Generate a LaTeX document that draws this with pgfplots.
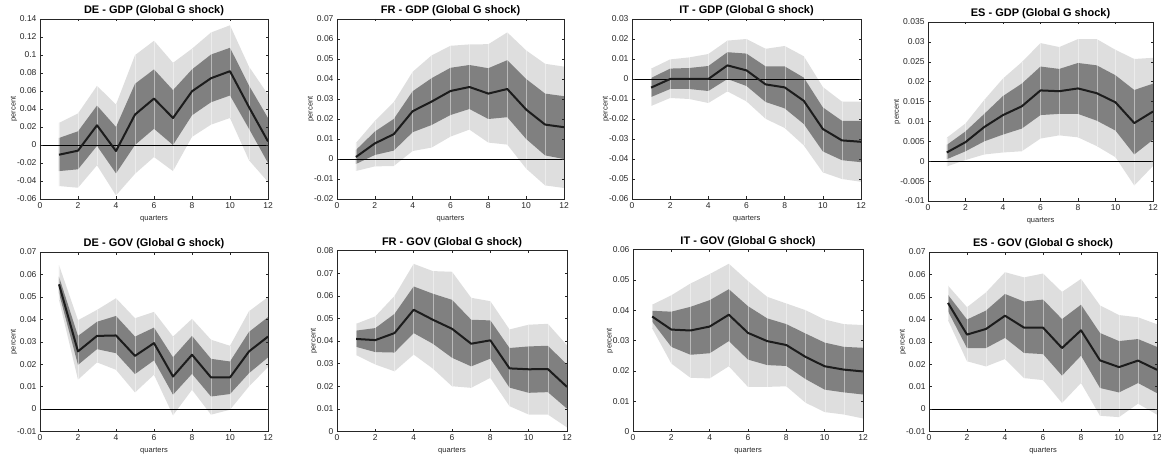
\documentclass[border=0pt]{standalone}
\usepackage{fontspec}
\setmainfont{Liberation Sans}
\usepackage{pgfplots}
\pgfplotsset{compat=1.18}
\usepackage{pgfplotstable}

\definecolor{lightband}{RGB}{222,222,222}
\definecolor{darkband}{RGB}{128,128,128}
\definecolor{axgray}{RGB}{38,38,38}
\definecolor{medline}{RGB}{28,28,28}

\pgfplotstableread{
x l90 l68 med h68 h90
1 -0.0456 -0.029 -0.0108 0.0078 0.0245
2 -0.0475 -0.027 -0.0063 0.0152 0.035
3 -0.0226 -0.001 0.0219 0.0438 0.0657
4 -0.056 -0.0315 -0.0067 0.020 0.045
5 -0.032 0.000 0.0338 0.068 0.0998
6 -0.0134 0.018 0.0516 0.084 0.1158
7 -0.029 0.000 0.030 0.061 0.0913
8 0.009 0.033 0.0597 0.084 0.107
9 0.0226 0.0475 0.0742 0.1005 0.125
10 0.030 0.055 0.082 0.108 0.133
11 -0.017 0.018 0.042 0.066 0.087
12 -0.041 -0.020 0.004 0.030 0.056
}\deGDP

\pgfplotstableread{
x l90 l68 med h68 h90
1 -0.006 -0.0025 0.001 0.0045 0.008
2 -0.0037 0.002 0.0078 0.0137 0.019
3 -0.0035 0.0042 0.0124 0.020 0.0284
4 0.004 0.0134 0.0239 0.0339 0.0436
5 0.0057 0.017 0.0287 0.0404 0.0518
6 0.0112 0.022 0.034 0.0456 0.0566
7 0.0147 0.025 0.036 0.047 0.0573
8 0.0082 0.020 0.0327 0.0454 0.0574
9 0.0072 0.0209 0.035 0.0494 0.0633
10 -0.0048 0.010 0.0247 0.040 0.0543
11 -0.0132 0.0018 0.0172 0.0327 0.0476
12 -0.0145 0.000 0.0159 0.0314 0.0462
}\frGDP

\pgfplotstableread{
x l90 l68 med h68 h90
1 -0.0135 -0.009 -0.0043 0.0005 0.0052
2 -0.0095 -0.005 0.0 0.0052 0.0098
3 -0.010 -0.005 0.0 0.0055 0.0108
4 -0.012 -0.006 0.0 0.0065 0.0125
5 -0.0062 0.000 0.0068 0.0134 0.0192
6 -0.0112 -0.0035 0.0043 0.0127 0.020
7 -0.0199 -0.0115 -0.0027 0.0063 0.0151
8 -0.0245 -0.0147 -0.0042 0.0063 0.0165
9 -0.0332 -0.0225 -0.0109 0.0007 0.0114
10 -0.0467 -0.0362 -0.025 -0.0142 -0.004
11 -0.050 -0.0406 -0.0307 -0.0209 -0.0113
12 -0.0514 -0.0416 -0.0314 -0.021 -0.0113
}\itGDP

\pgfplotstableread{
x l90 l68 med h68 h90
1 -0.0013 0.0005 0.0022 0.0041 0.0059
2 0.0003 0.0025 0.0048 0.0075 0.0095
3 0.0017 0.005 0.0086 0.0119 0.0154
4 0.0022 0.0067 0.0116 0.0164 0.0208
5 0.0025 0.0082 0.0138 0.0195 0.0249
6 0.0057 0.0116 0.0178 0.0238 0.0297
7 0.0065 0.0119 0.0176 0.0232 0.0287
8 0.006 0.0119 0.0183 0.0247 0.0307
9 0.0038 0.0102 0.0171 0.0241 0.0307
10 0.001 0.0077 0.0148 0.0216 0.028
11 -0.0061 0.0017 0.0096 0.0179 0.0257
12 -0.0012 0.0054 0.0125 0.0195 0.026
}\esGDP

\pgfplotstableread{
x l90 l68 med h68 h90
1 0.0487 0.0516 0.0556 0.059 0.0642
2 0.0131 0.0197 0.0257 0.0326 0.0396
3 0.0208 0.0267 0.0326 0.0389 0.0442
4 0.0175 0.0249 0.0328 0.0415 0.0494
5 0.0074 0.0156 0.0237 0.0323 0.0405
6 0.0153 0.0217 0.0294 0.0363 0.0433
7 -0.0028 0.0064 0.0145 0.0231 0.0323
8 0.0086 0.0157 0.0242 0.0326 0.0402
9 -0.0025 0.0056 0.0141 0.0224 0.0309
10 -0.0003 0.0067 0.0141 0.0212 0.0282
11 0.0101 0.016 0.0257 0.0344 0.0436
12 0.0187 0.023 0.0323 0.041 0.0499
}\deGOV

\pgfplotstableread{
x l90 l68 med h68 h90
1 0.0338 0.0374 0.0409 0.0446 0.0476
2 0.0296 0.0351 0.0404 0.0457 0.0509
3 0.0266 0.0349 0.0435 0.052 0.0599
4 0.034 0.0435 0.0538 0.0641 0.0741
5 0.0278 0.0388 0.0494 0.0609 0.0709
6 0.020 0.0326 0.0454 0.0582 0.0706
7 0.0193 0.0288 0.0388 0.0494 0.0591
8 0.0237 0.0322 0.0403 0.0491 0.0576
9 0.0112 0.0194 0.0279 0.0369 0.0451
10 0.0075 0.0171 0.0275 0.0376 0.0472
11 0.0075 0.0174 0.0276 0.0379 0.0476
12 0.0018 0.0101 0.0197 0.0296 0.0381
}\frGOV

\pgfplotstableread{
x l90 l68 med h68 h90
1 0.034 0.0362 0.0379 0.0398 0.0418
2 0.0224 0.0279 0.0336 0.0395 0.0449
3 0.0177 0.0253 0.0333 0.0411 0.0488
4 0.0175 0.0258 0.0346 0.0433 0.0519
5 0.0215 0.0298 0.0385 0.0469 0.0553
6 0.0147 0.0237 0.0325 0.0413 0.0496
7 0.0147 0.0219 0.0298 0.0373 0.0444
8 0.0149 0.0216 0.0285 0.0354 0.0422
9 0.0095 0.0173 0.0246 0.0323 0.040
10 0.0064 0.0138 0.0215 0.0293 0.0369
11 0.0056 0.0129 0.0204 0.0279 0.0354
12 0.0043 0.0122 0.0198 0.0276 0.0351
}\itGOV

\pgfplotstableread{
x l90 l68 med h68 h90
1 0.0396 0.0436 0.0473 0.0509 0.055
2 0.0213 0.0272 0.0332 0.0399 0.0454
3 0.019 0.0272 0.0357 0.0439 0.052
4 0.0223 0.0317 0.0416 0.0513 0.061
5 0.0138 0.025 0.0363 0.0479 0.0587
6 0.0129 0.0245 0.0363 0.0488 0.0604
7 0.0027 0.0149 0.0272 0.0401 0.0522
8 0.0116 0.0238 0.0351 0.0465 0.058
9 -0.003 0.0094 0.0217 0.0339 0.0462
10 -0.0036 0.0074 0.0187 0.0303 0.0419
11 0.0024 0.0116 0.0216 0.0312 0.0409
12 -0.0025 0.0071 0.0175 0.0277 0.0378
}\esGOV

\pgfplotsset{irf/.style={
  scale only axis, anchor=south west,
  xmin=0, xmax=12, xtick={0,2,4,6,8,10,12},
  axis line style={axgray, line width=0.5pt},
  major tick style={axgray, line width=0.5pt},
  tick align=inside, major tick length=2.5pt,
  ticklabel style={font=\fontsize{8.5}{9}\selectfont, text=axgray},
  /pgf/number format/assume math mode=true,
  scaled y ticks=false,
  yticklabel style={/pgf/number format/fixed, /pgf/number format/precision=3},
  xlabel={quarters}, ylabel={percent},
  label style={font=\fontsize{7.5}{8}\selectfont, text=axgray},
  ylabel style={yshift=-7pt},
  title style={font=\bfseries\fontsize{11}{12}\selectfont, yshift=-6.5pt},
  axis on top,
}}

\newcommand{\irfpanel}[1]{%
  \addplot[draw=none, stack plots=y] table[x=x,y=l90]{#1};
  \addplot[fill=lightband, draw=none, stack plots=y] table[x=x,y expr=\thisrow{h90}-\thisrow{l90}]{#1} \closedcycle;
  \addplot[draw=none, stack plots=y] table[x=x,y expr=\thisrow{l68}-\thisrow{h90}]{#1};
  \addplot[fill=darkband, draw=none, stack plots=y] table[x=x,y expr=\thisrow{h68}-\thisrow{l68}]{#1} \closedcycle;
  \addplot[draw=none, mark=none, stack plots=false,
    error bars/.cd, y dir=minus, y explicit, error mark=none,
    error bar style={draw=white, draw opacity=0.45, line width=0.35pt}]
    table[x=x, y=h90, y error minus expr=\thisrow{h90}-\thisrow{l90}]{#1};
  \addplot[black, line width=0.8pt, stack plots=false] coordinates {(0,0) (12,0)};
  \addplot[medline, line width=2pt, line join=round, stack plots=false] table[x=x,y=med]{#1};
}

\begin{document}
\begin{tikzpicture}
\path[use as bounding box] (0,0) rectangle (1161pt,460pt);

\begin{axis}[irf, at={(40pt,261pt)}, width=228pt, height=180pt,
  title={DE - GDP (Global G shock)}, ymin=-0.06, ymax=0.14,
  ytick={-0.06,-0.04,-0.02,0,0.02,0.04,0.06,0.08,0.1,0.12,0.14}]
\irfpanel{\deGDP}
\end{axis}

\begin{axis}[irf, at={(337pt,261pt)}, width=227pt, height=180pt,
  title={FR - GDP (Global G shock)}, ymin=-0.02, ymax=0.07,
  ytick={-0.02,-0.01,0,0.01,0.02,0.03,0.04,0.05,0.06,0.07}]
\irfpanel{\frGDP}
\end{axis}

\begin{axis}[irf, at={(632pt,261pt)}, width=229pt, height=180pt,
  title={IT - GDP (Global G shock)}, ymin=-0.06, ymax=0.03,
  ytick={-0.06,-0.05,-0.04,-0.03,-0.02,-0.01,0,0.01,0.02,0.03}]
\irfpanel{\itGDP}
\end{axis}

\begin{axis}[irf, at={(928pt,259pt)}, width=225pt, height=179pt,
  title={ES - GDP (Global G shock)}, ymin=-0.01, ymax=0.035,
  ytick={-0.01,-0.005,0,0.005,0.01,0.015,0.02,0.025,0.03,0.035}]
\irfpanel{\esGDP}
\end{axis}

\begin{axis}[irf, at={(40pt,28.5pt)}, width=228pt, height=179.5pt,
  title={DE - GOV (Global G shock)}, ymin=-0.01, ymax=0.07,
  ytick={-0.01,0,0.01,0.02,0.03,0.04,0.05,0.06,0.07}]
\irfpanel{\deGOV}
\end{axis}

\begin{axis}[irf, at={(337pt,28.5pt)}, width=230pt, height=181pt,
  title={FR - GOV (Global G shock)}, ymin=0, ymax=0.08,
  ytick={0,0.01,0.02,0.03,0.04,0.05,0.06,0.07,0.08}]
\irfpanel{\frGOV}
\end{axis}

\begin{axis}[irf, at={(633pt,28.5pt)}, width=230pt, height=182pt,
  title={IT - GOV (Global G shock)}, ymin=0, ymax=0.06,
  ytick={0,0.01,0.02,0.03,0.04,0.05,0.06}]
\irfpanel{\itGOV}
\end{axis}

\begin{axis}[irf, at={(929pt,28.5pt)}, width=228pt, height=179.5pt,
  title={ES - GOV (Global G shock)}, ymin=-0.01, ymax=0.07,
  ytick={-0.01,0,0.01,0.02,0.03,0.04,0.05,0.06,0.07}]
\irfpanel{\esGOV}
\end{axis}
\end{tikzpicture}
\end{document}
